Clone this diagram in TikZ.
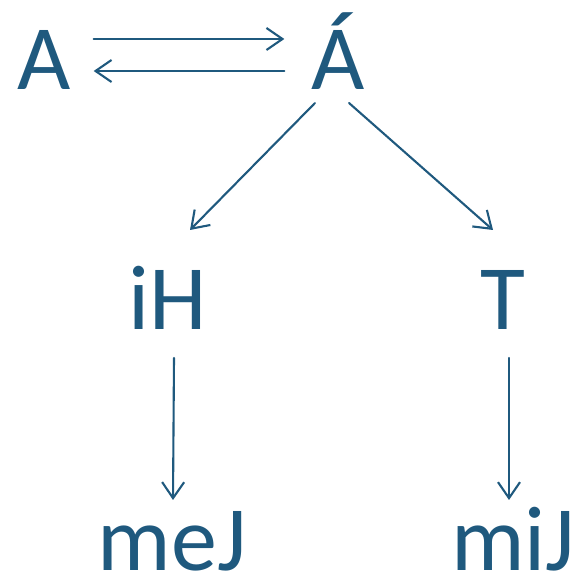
\documentclass[tikz,border=0pt]{standalone}
\usepackage{fontspec}
\setmainfont{Carlito}
\usetikzlibrary{arrows.meta}
\definecolor{deepblue}{RGB}{31,89,126}
\begin{document}
\begin{tikzpicture}[x=1pt, y=1pt, line cap=round, line join=round, >={Straight Barb[length=16pt, width=22pt]}, color=deepblue, line width=2.1pt]
	\tikzset{word/.style={font=\fontsize{92}{100}\selectfont, inner sep=0pt, anchor=base, text=deepblue}}
	\useasboundingbox (0,0) rectangle (577,579);
	\node[word] (A) at (44,489) {A};
	\node[word] (Aa) at (338,489) {Á};
	\node[word] (iH) at (168,249) {iH};
	\node[word] (T) at (503,249) {T};
	\node[word] (meJ) at (172,9) {meJ};
	\node[word] (miJ) at (513,9) {miJ};
	\draw[->] ([shift={(22,51)}]A.base east) -- ([shift={(-26,51)}]Aa.base west);
	\draw[->] ([shift={(-26,19)}]Aa.base west) -- ([shift={(22,19)}]A.base east);
	\draw[->] ([shift={(-23,-13)}]Aa.base) -- ([shift={(22,100)}]iH.base);
	\draw[->] ([shift={(11,-13)}]Aa.base) -- ([shift={(-10,100)}]T.base);
	\draw[->] ([shift={(6,-28)}]iH.base) -- ([shift={(1,70)}]meJ.base);
	\draw[->] ([shift={(6,-28)}]T.base) -- ([shift={(-4,70)}]miJ.base);
\end{tikzpicture}
\end{document}
